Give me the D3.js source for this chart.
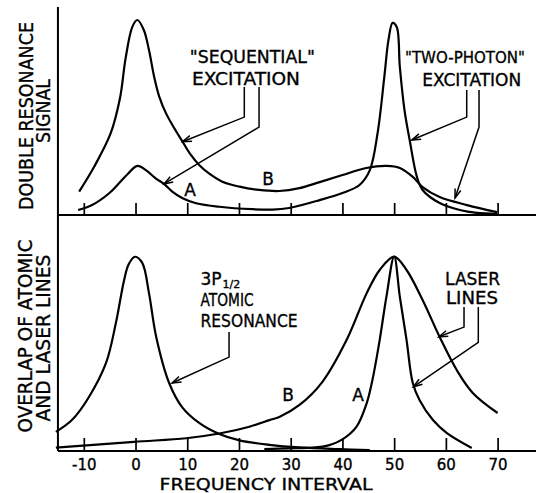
<!DOCTYPE html>
<html><head><meta charset="utf-8">
<script src="https://cdn.jsdelivr.net/npm/d3@7"></script>
<style>body{margin:0;background:#fff}svg{display:block}</style>
</head><body>
<svg id="c" width="536" height="493"></svg>
<script>
// ---- data (x: frequency interval, y: relative signal 0..100 in each panel) ----
const xTicks = [-10, 0, 10, 20, 30, 40, 50, 60, 70];
const topCurveB = [[-10.9,11.3],[-8.0,23.3],[-4.8,39.5],[-3.0,56.5],[-1.9,76.0],[-0.6,91.0],[0.35,94.2],[1.6,89.4],[2.6,79.7],[3.6,66.8],[4.6,57.1],[5.9,49.1],[7.5,41.9],[9.1,35.4],[10.7,29.0],[12.3,24.2],[14.2,20.1],[16.8,16.1],[20.1,13.7],[23.9,12.1],[27.8,11.6],[31.7,13.0],[35.6,15.9],[40.0,19.3],[44.6,22.7],[48.6,23.7],[51.1,22.7],[53.6,18.4],[55.5,13.5],[58.8,8.7],[64.1,4.8],[69.9,1.4]];
const topCurveA = [[-11.1,2.4],[-8.4,4.8],[-5.1,10.5],[-3.2,15.3],[-1.5,19.8],[0.35,23.7],[2.0,21.7],[3.9,17.7],[5.5,15.0],[7.1,11.3],[9.1,8.1],[11.7,5.7],[16.2,4.0],[22.6,2.8],[26.5,2.6],[29.7,3.4],[35.6,7.2],[40.0,10.6],[43.3,14.5],[45.3,21.7],[46.8,39.6],[48.1,66.7],[48.9,84.5],[49.7,92.8],[50.5,90.8],[51.1,71.5],[52.0,50.7],[53.0,36.2],[54.4,18.4],[55.5,12.1],[58.8,5.8],[62.7,2.4],[66.0,1.0],[69.9,0.5]];
const atomicLine = [[-15.4,8.1],[-12.3,13.1],[-9.0,22.9],[-5.7,37.3],[-3.8,54.2],[-2.2,72.5],[-1.3,79.2],[-0.1,82.3],[1.3,79.7],[2.6,66.9],[4.0,48.3],[6.5,28.8],[9.0,18.6],[12.3,11.9],[16.2,7.2],[20.1,4.5],[25.9,2.6],[31.7,1.5],[39.4,0.8],[45.3,0.4]];
const laserB = [[-15.4,1.4],[-0.3,3.9],[9.8,5.4],[16.2,7.4],[22.0,10.3],[25.9,13.1],[27.8,14.4],[31.7,19.5],[36.1,29.2],[40.8,47.0],[44.7,66.9],[47.2,76.7],[50.0,82.4],[52.4,76.7],[55.5,64.0],[58.8,48.3],[62.1,34.3],[65.2,24.6],[70.0,16.1]];
const laserA = [[24.9,0.8],[29.7,1.1],[34.2,1.4],[37.5,2.5],[40.0,4.9],[42.7,10.2],[44.7,20.3],[45.8,30.1],[47.2,47.0],[48.5,65.3],[50.0,82.4],[51.1,65.3],[52.4,47.0],[53.6,28.8],[54.9,21.6],[57.5,13.1],[60.2,7.6],[65.0,1.3]];

// ---- annotation anchors, in data units ----
const topLeaders = [
  [[21.03,61.8],[21.03,47.3],[9.1,35.4]],
  [[23.88,61.8],[23.88,42.5],[5.5,15.0]],
  [[64.03,60.4],[64.03,47.3],[53.40,36.2]],
  [[66.41,60.4],[66.41,42.5],[61.77,8.2]]
];
const botLeaders = [
  [[18.08,50.4],[18.08,39.8],[7.06,28.8]],
  [[63.51,61.0],[63.51,52.5],[58.64,48.4]],
  [[66.27,61.0],[66.27,46.0],[53.71,27.2]]
];

const W = 536, H = 493;
const svg = d3.select("#c");
const FONT = "'DejaVu Sans', sans-serif";
const x = d3.scaleLinear().domain([-10, 70]).range([83.8, 497.6]);
const yTop = d3.scaleLinear().domain([0, 100]).range([215, 8]);
const yBot = d3.scaleLinear().domain([0, 100]).range([451, 215]);

svg.append("defs").append("marker")
  .attr("id", "arr").attr("viewBox", "-10 -5 12 10")
  .attr("refX", 0).attr("refY", 0)
  .attr("markerWidth", 12).attr("markerHeight", 10)
  .attr("markerUnits", "userSpaceOnUse")
  .attr("orient", "auto")
  .append("path").attr("d", "M-9,-3 L0,0 L-9,3")
  .attr("fill", "none").attr("stroke", "#000").attr("stroke-width", 1.5);

// axes frame
svg.append("line").attr("x1", x(-15)).attr("x2", x(-15))
  .attr("y1", yTop(100.5)).attr("y2", yBot(0))
  .attr("stroke", "#000").attr("stroke-width", 2);
[yTop(0), yBot(0)].forEach(yy => {
  svg.append("line").attr("x1", x(-15)).attr("x2", W)
    .attr("y1", yy).attr("y2", yy)
    .attr("stroke", "#000").attr("stroke-width", 2);
});

const gTopAx = svg.append("g").attr("transform", `translate(0,${yTop(0)})`)
  .call(d3.axisTop(x).tickValues(xTicks).tickSize(12).tickFormat(""));
gTopAx.select(".domain").remove();
const gBotAx = svg.append("g").attr("transform", `translate(0,${yBot(0)})`)
  .call(d3.axisBottom(x).tickValues(xTicks).tickSizeInner(-13).tickSizeOuter(0)
    .tickPadding(8).tickFormat(d => String(d)));
gBotAx.select(".domain").remove();
svg.selectAll(".tick line").attr("stroke", "#000").attr("stroke-width", 1.7);
gBotAx.selectAll("text").attr("font-family", FONT).attr("font-size", 15).attr("fill", "#000")
  .attr("stroke", "#000").attr("stroke-width", 0.35);

// curves
const curve = d3.curveCatmullRom.alpha(0.5);
const lineTop = d3.line().x(d => x(d[0])).y(d => yTop(d[1])).curve(curve);
const lineBot = d3.line().x(d => x(d[0])).y(d => yBot(d[1])).curve(curve);
[topCurveB, topCurveA].forEach(s => svg.append("path").attr("d", lineTop(s))
  .attr("fill", "none").attr("stroke", "#000").attr("stroke-width", 2.2)
  .attr("stroke-linejoin", "round"));
[atomicLine, laserB, laserA].forEach(s => svg.append("path").attr("d", lineBot(s))
  .attr("fill", "none").attr("stroke", "#000").attr("stroke-width", 2.2)
  .attr("stroke-linejoin", "round"));

// leaders
topLeaders.forEach(p => svg.append("polyline")
  .attr("points", p.map(d => [x(d[0]), yTop(d[1])].join(",")).join(" "))
  .attr("fill", "none").attr("stroke", "#000").attr("stroke-width", 1.5)
  .attr("marker-end", "url(#arr)"));
botLeaders.forEach(p => svg.append("polyline")
  .attr("points", p.map(d => [x(d[0]), yBot(d[1])].join(",")).join(" "))
  .attr("fill", "none").attr("stroke", "#000").attr("stroke-width", 1.5)
  .attr("marker-end", "url(#arr)"));

function label(txt, px, py, anchor, len, size) {
  const t = svg.append("text").attr("x", px).attr("y", py)
    .attr("text-anchor", anchor).attr("font-family", FONT)
    .attr("font-size", size || 17).attr("fill", "#000")
    .attr("stroke", "#000").attr("stroke-width", 0.35).text(txt);
  if (len) t.attr("textLength", len).attr("lengthAdjust", "spacingAndGlyphs");
  return t;
}
// top annotations
label("\"SEQUENTIAL\"", x(22.59), yTop(73.4), "middle", 125);
label("EXCITATION", x(21.36), yTop(62.8), "middle", 108);
label("\"TWO-PHOTON\"", x(63.7), yTop(73.2), "middle", 120, 16);
label("EXCITATION", x(65.0), yTop(62.3), "middle", 99);
label("A", x(10.54), yTop(9.2), "middle");
label("B", x(25.62), yTop(14.5), "middle");
// bottom annotations
const t3p = svg.append("text").attr("x", x(12.57)).attr("y", yBot(70.3))
  .attr("font-family", FONT).attr("font-size", 17).attr("fill", "#000")
  .attr("stroke", "#000").attr("stroke-width", 0.35);
t3p.append("tspan").text("3P");
t3p.append("tspan").attr("font-size", 11).attr("dx", 1).attr("dy", 3).text("1/2");
label("ATOMIC", x(12.57), yBot(61.4), "start", 53);
label("RESONANCE", x(12.57), yBot(52.5), "start", 97);
label("LASER", x(65.15), yBot(70.3), "middle", 55);
label("LINES", x(65.05), yBot(62.3), "middle", 52);
label("B", x(29.48), yBot(21.2), "middle");
label("A", x(43.02), yBot(21.2), "middle");

// axis titles
label("FREQUENCY INTERVAL", 266, 490, "middle", 213, 16);
function vlabel(txt, bx, cy, len) {
  svg.append("text").attr("transform", `translate(${bx},${cy}) rotate(-90)`)
    .attr("text-anchor", "middle").attr("font-family", FONT).attr("font-size", 19)
    .attr("fill", "#000").attr("stroke", "#000").attr("stroke-width", 0.35)
    .attr("textLength", len).attr("lengthAdjust", "spacingAndGlyphs")
    .text(txt);
}
vlabel("DOUBLE RESONANCE", 33, 116, 188);
vlabel("SIGNAL", 50, 111, 64);
vlabel("OVERLAP OF ATOMIC", 32, 336, 193);
vlabel("AND LASER LINES", 50, 338, 167);
</script>
</body></html>
